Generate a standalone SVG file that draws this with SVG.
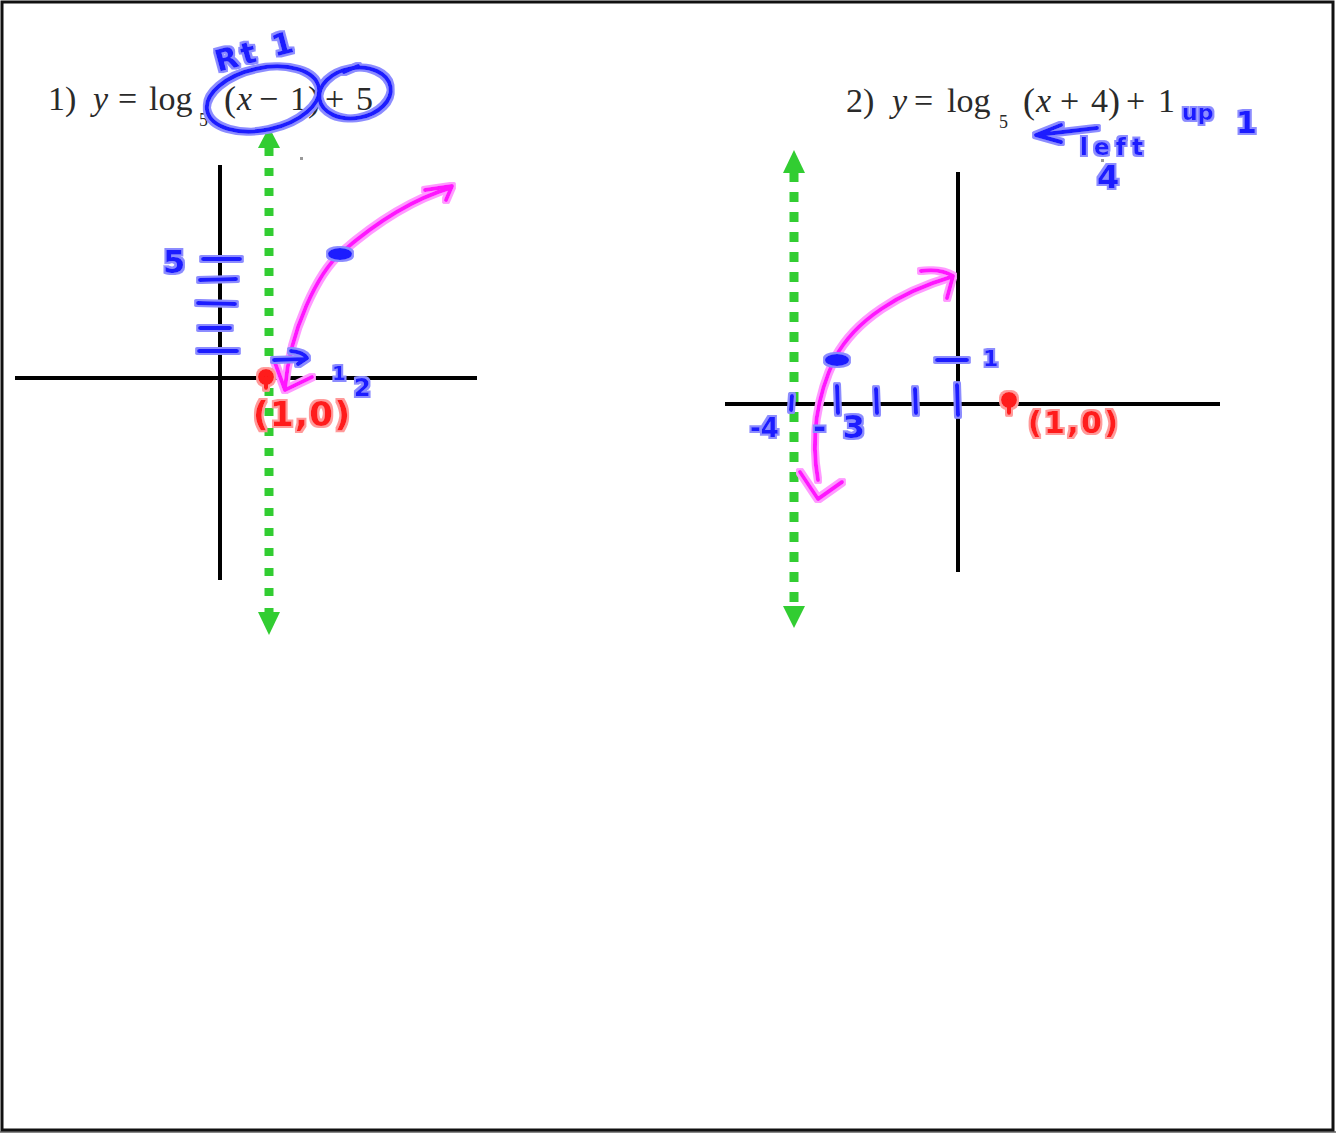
<svg xmlns="http://www.w3.org/2000/svg" width="1336" height="1133" viewBox="0 0 1336 1133">
<style>
.eq{font-family:"Liberation Serif","Times New Roman",serif;font-size:34px;fill:#2a2a2a}
.it{font-style:italic}
.sub{font-size:18px}
.par{font-size:36px}
.axis{stroke:#000;stroke-width:4;fill:none}
.asym{stroke:#32cd32;stroke-width:9;fill:none}
.ah{fill:#32cd32}
.bl{stroke:#1a1aff;stroke-width:4;fill:none;stroke-linecap:round;stroke-linejoin:round}
.blf{fill:#1a1aff}
.mg{stroke:#ff19ff;stroke-width:4;fill:none;stroke-linecap:round;stroke-linejoin:round}
.rd{stroke:#ff1a1a;stroke-width:4;fill:none;stroke-linecap:round}
.rdf{fill:#ff1a1a}
.hw{font-family:"DejaVu Sans",sans-serif;font-weight:bold}
.hwb{fill:#1a1aff}
.hwr{fill:#ff1a1a}
</style>
<defs>
<filter id="hb" filterUnits="userSpaceOnUse" x="0" y="0" width="1336" height="1133">
<feMorphology in="SourceAlpha" operator="dilate" radius="1.6" result="d"/>
<feFlood flood-color="#8c8cff"/>
<feComposite in2="d" operator="in" result="h"/>
<feMerge><feMergeNode in="h"/><feMergeNode in="SourceGraphic"/></feMerge>
</filter>
<filter id="hp" filterUnits="userSpaceOnUse" x="0" y="0" width="1336" height="1133">
<feMorphology in="SourceAlpha" operator="dilate" radius="1.6" result="d"/>
<feFlood flood-color="#ff9aff"/>
<feComposite in2="d" operator="in" result="h"/>
<feMerge><feMergeNode in="h"/><feMergeNode in="SourceGraphic"/></feMerge>
</filter>
<filter id="hr" filterUnits="userSpaceOnUse" x="0" y="0" width="1336" height="1133">
<feMorphology in="SourceAlpha" operator="dilate" radius="1.6" result="d"/>
<feFlood flood-color="#ff9a9a"/>
<feComposite in2="d" operator="in" result="h"/>
<feMerge><feMergeNode in="h"/><feMergeNode in="SourceGraphic"/></feMerge>
</filter>
</defs>
<rect x="0" y="0" width="1336" height="1133" fill="#fff"/>
<rect x="0" y="1131" width="1336" height="2" fill="#888"/>
<rect x="2" y="2" width="1331" height="1128" fill="none" stroke="#111" stroke-width="3"/>

<g id="equation1" class="eq">
<text x="48" y="110">1)</text>
<text x="93" y="110" class="it">y</text>
<text x="118" y="110">=</text>
<text x="149" y="110">log</text>
<text x="199" y="126" class="sub">5</text>
<text x="224" y="111" class="par">(</text>
<text x="237" y="110" class="it">x</text>
<text x="259" y="110">−</text>
<text x="290" y="110">1</text>
<text x="308" y="111" class="par">)</text>
<text x="325" y="110">+</text>
<text x="356" y="110">5</text>
</g>
<g id="equation2" class="eq">
<text x="846" y="112">2)</text>
<text x="892" y="112" class="it">y</text>
<text x="914" y="112">=</text>
<text x="947" y="112">log</text>
<text x="999" y="128" class="sub">5</text>
<text x="1023" y="113" class="par">(</text>
<text x="1036" y="112" class="it">x</text>
<text x="1060" y="112">+</text>
<text x="1091" y="112">4</text>
<text x="1108" y="113" class="par">)</text>
<text x="1126" y="112">+</text>
<text x="1158" y="112">1</text>
</g>
<rect x="300" y="157" width="3" height="3" fill="#999"/>
<rect x="1101" y="159" width="3" height="3" fill="#999"/>

<g id="axes1">
<line class="axis" x1="220" y1="165" x2="220" y2="580"/>
<line class="axis" x1="15" y1="378" x2="477" y2="378"/>
</g>
<g id="axes2">
<line class="axis" x1="958" y1="172" x2="958" y2="572"/>
<line class="axis" x1="725" y1="404" x2="1220" y2="404"/>
</g>

<g id="asymptote1">
<line class="asym" x1="269" y1="148" x2="269" y2="612" stroke-dasharray="8 12"/>
<polygon class="ah" points="269,127 258,148 280,148"/>
<polygon class="ah" points="269,635 258,612 280,612"/>
</g>
<g id="asymptote2">
<line class="asym" x1="794" y1="172" x2="794" y2="607" stroke-width="10" stroke-dasharray="10 10"/>
<polygon class="ah" points="794,150 783,173 805,173"/>
<polygon class="ah" points="794,628 783,606 805,606"/>
</g>

<g id="curve1" filter="url(#hp)">
<path class="mg" d="M285 388 C 290 330, 318 272, 342 252 C 372 226, 410 200, 450 188"/>
<path class="mg" d="M425 190 L452 186 L446 200"/>
<path class="mg" d="M274 360 L285 390 L312 377"/>
</g>
<g id="notes1-blue" filter="url(#hb)">
<text class="hw hwb" x="218" y="72" font-size="30" textLength="80" lengthAdjust="spacing" transform="rotate(-15 218 72)">Rt 1</text>
<ellipse class="bl" cx="263" cy="99" rx="57" ry="31" transform="rotate(-12 263 99)"/>
<ellipse class="bl" cx="355" cy="93" rx="36" ry="25" transform="rotate(-10 355 93)"/>
<path class="bl" d="M344 72 L358 66"/>
<text class="hw hwb" x="163" y="273" font-size="32">5</text>
<path class="bl" d="M203 259 L240 259 M200 280 L236 279 M198 303 L235 304 M200 328 L230 328 M199 351 L237 351"/>
<ellipse class="blf" cx="340" cy="254" rx="12" ry="6"/>
<path class="bl" d="M274 360 L305 359 M291 351 Q303 352 307 358 L298 364"/>
<text class="hw hwb" x="332" y="380" font-size="20">1</text>
<text class="hw hwb" x="354" y="396" font-size="24">2</text>
</g>
<g id="point1" filter="url(#hr)">
<circle class="rdf" cx="266" cy="377" r="8"/>
<path class="rd" d="M266 378 L266 388"/>
<text class="hw hwr" x="253" y="426" font-size="34" textLength="97" lengthAdjust="spacing">(1,0)</text>
</g>

<g id="curve2" filter="url(#hp)">
<path class="mg" d="M951 277 C 900 292, 855 320, 835 358 C 815 400, 811 440, 818 480"/>
<path class="mg" d="M921 271 Q940 268 953 276 L947 298"/>
<path class="mg" d="M800 472 L818 499 L842 482"/>
</g>
<g id="notes2-blue" filter="url(#hb)">
<text class="hw hwb" x="1182" y="120" font-size="22">up</text>
<text class="hw hwb" x="1236" y="133" font-size="30">1</text>
<path class="bl" d="M1097 128 L1037 135 M1061 125 L1036 135 L1061 142"/>
<text class="hw hwb" x="1080" y="155" font-size="23" textLength="63" lengthAdjust="spacing">left</text>
<text class="hw hwb" x="1097" y="188" font-size="32">4</text>
<path class="bl" d="M937 360 L967 360"/>
<text class="hw hwb" x="983" y="366" font-size="22">1</text>
<path class="bl" d="M792 396 L791 410 M837 386 L838 413 M876 389 L877 413 M915 389 L916 413 M957 385 L958 415"/>
<text class="hw hwb" x="750" y="437" font-size="26">-4</text>
<text class="hw hwb" x="813" y="438" font-size="32" textLength="52" lengthAdjust="spacing">-3</text>
<ellipse class="blf" cx="837" cy="360" rx="12" ry="6"/>
</g>
<g id="point2" filter="url(#hr)">
<circle class="rdf" cx="1009" cy="400" r="8"/>
<path class="rd" d="M1009 401 L1009 413"/>
<text class="hw hwr" x="1028" y="433" font-size="30" textLength="90" lengthAdjust="spacing">(1,0)</text>
</g>
</svg>
